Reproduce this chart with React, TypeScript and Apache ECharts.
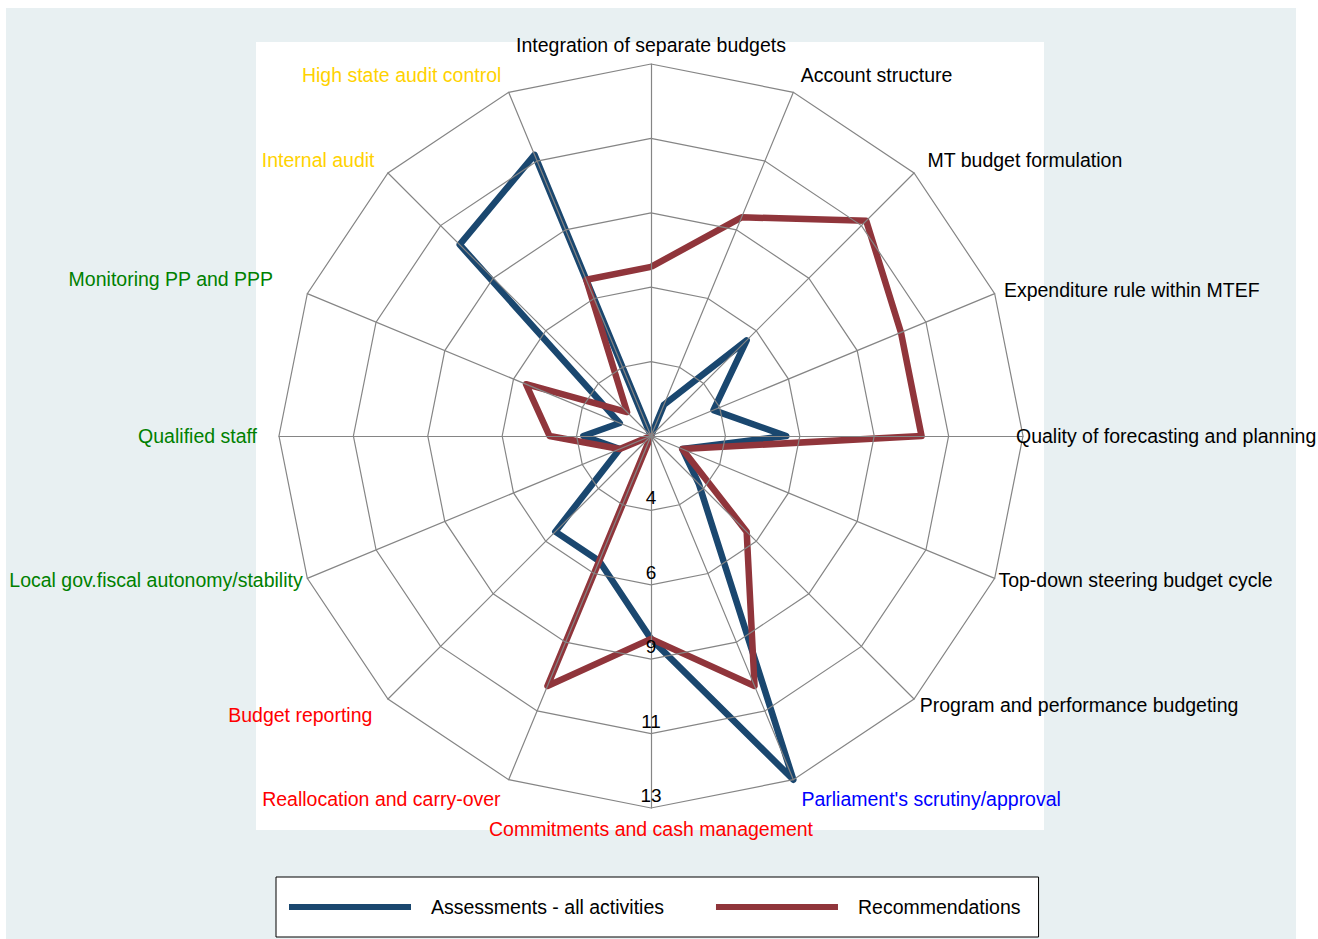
import React, { useEffect, useRef } from "react";
import * as echarts from "echarts";

// Categories in clockwise order starting at the top spoke
const categories = [
  "Integration of separate budgets",
  "Account structure",
  "MT budget formulation",
  "Expenditure rule within MTEF",
  "Quality of forecasting and planning",
  "Top-down steering budget cycle",
  "Program and performance budgeting",
  "Parliament's scrutiny/approval",
  "Commitments and cash management",
  "Reallocation and carry-over",
  "Budget reporting",
  "Local gov.fiscal autonomy/stability",
  "Qualified staff",
  "Monitoring PP and PPP",
  "Internal audit",
  "High state audit control",
];

const labelColors = [
  "#000000", "#000000", "#000000", "#000000", "#000000", "#000000", "#000000",
  "#0000ff",
  "#ff0000", "#ff0000", "#ff0000",
  "#008000", "#008000", "#008000",
  "#ffd200", "#ffd200",
];

const labelGaps = [9, 19, 19, 10, -7, 4, 8, 21, 11, 21, 22, 5, 22, 37, 19, 19];

const assessments = [2, 3, 6, 4, 6, 3, 4, 13, 8, 6, 6, 3, 4, 3, 10, 11];
const recommendations = [7, 9, 11, 10, 10, 3, 6, 10, 8, 10, 2, 3, 5, 6, 3, 7];

const seriesNames = ["Assessments - all activities", "Recommendations"];
const seriesColors = ["#1a476f", "#90353b"];

const ringLabels = ["4", "6", "9", "11", "13"];
const axisMin = 2;
const axisMax = 13;
const labelAxisIndex = 8;

const FONT = "'Liberation Sans', Arial, Helvetica, sans-serif";

export default function App() {
  const ref = useRef<HTMLDivElement>(null);

  useEffect(() => {
    if (!ref.current) return;
    const chart = echarts.init(ref.current, null, { renderer: "svg" });

    // ECharts lays out radar indicators counter-clockwise; reverse to get clockwise
    const n = categories.length;
    const order = [0];
    for (let i = n - 1; i >= 1; i--) order.push(i);

    const indicator = order.map((i) => {
      const ind: any = {
        name: categories[i],
        min: axisMin,
        max: axisMax,
        color: labelColors[i],
        nameGap: labelGaps[i],
      };
      if (i === labelAxisIndex) {
        ind.axisLabel = {
          show: true,
          margin: 0,
          align: "center",
          verticalAlign: "bottom",
          fontSize: 19,
          fontFamily: FONT,
          color: "#000",
          padding: [0, 0, 3, 0],
          formatter: (_v: number, idx: number) => (idx === 0 ? "" : ringLabels[idx - 1] ?? ""),
        };
      }
      return ind;
    });

    const option: any = {
      animation: false,
      graphic: [
        {
          type: "rect",
          shape: { x: 6, y: 8, width: 1290, height: 931 },
          style: { fill: "#e8f0f2" },
          silent: true,
        },
        {
          type: "rect",
          shape: { x: 256, y: 42, width: 788, height: 788 },
          style: { fill: "#ffffff" },
          silent: true,
        },
      ],
      legend: {
        left: 276,
        top: 877,
        orient: "horizontal",
        data: seriesNames,
        icon: "rect",
        itemWidth: 122,
        itemHeight: 6,
        itemGap: 52,
        backgroundColor: "#ffffff",
        borderColor: "#000000",
        borderWidth: 1,
        borderRadius: 0,
        padding: [20, 18, 20, 13],
        textStyle: {
          fontSize: 19.5,
          fontFamily: FONT,
          color: "#000",
          padding: [0, 0, 0, 15],
        },
      },
      radar: {
        center: [651, 436],
        radius: 372,
        startAngle: 90,
        shape: "polygon",
        splitNumber: 5,
        z: 3,
        indicator,
        nameGap: 14,
        axisName: {
          fontSize: 19.5,
          fontFamily: FONT,
          color: "#000",
        },
        splitLine: { lineStyle: { color: "#858585", width: 1.2 } },
        splitArea: { show: false },
        axisLine: { lineStyle: { color: "#858585", width: 1.2 } },
        axisTick: { show: false },
        axisLabel: { show: false },
      },
      series: [
        {
          type: "radar",
          symbol: "none",
          z: 2,
          data: [
            {
              name: seriesNames[0],
              value: order.map((i) => assessments[i]),
              lineStyle: { color: seriesColors[0], width: 6.5 },
              itemStyle: { color: seriesColors[0] },
            },
            {
              name: seriesNames[1],
              value: order.map((i) => recommendations[i]),
              lineStyle: { color: seriesColors[1], width: 6.5 },
              itemStyle: { color: seriesColors[1] },
            },
          ],
        },
      ],
    };

    chart.setOption(option);
    return () => chart.dispose();
  }, []);

  return (
    <div
      ref={ref}
      style={{ position: "absolute", left: 0, top: 0, width: 1318, height: 939 }}
    />
  );
}
